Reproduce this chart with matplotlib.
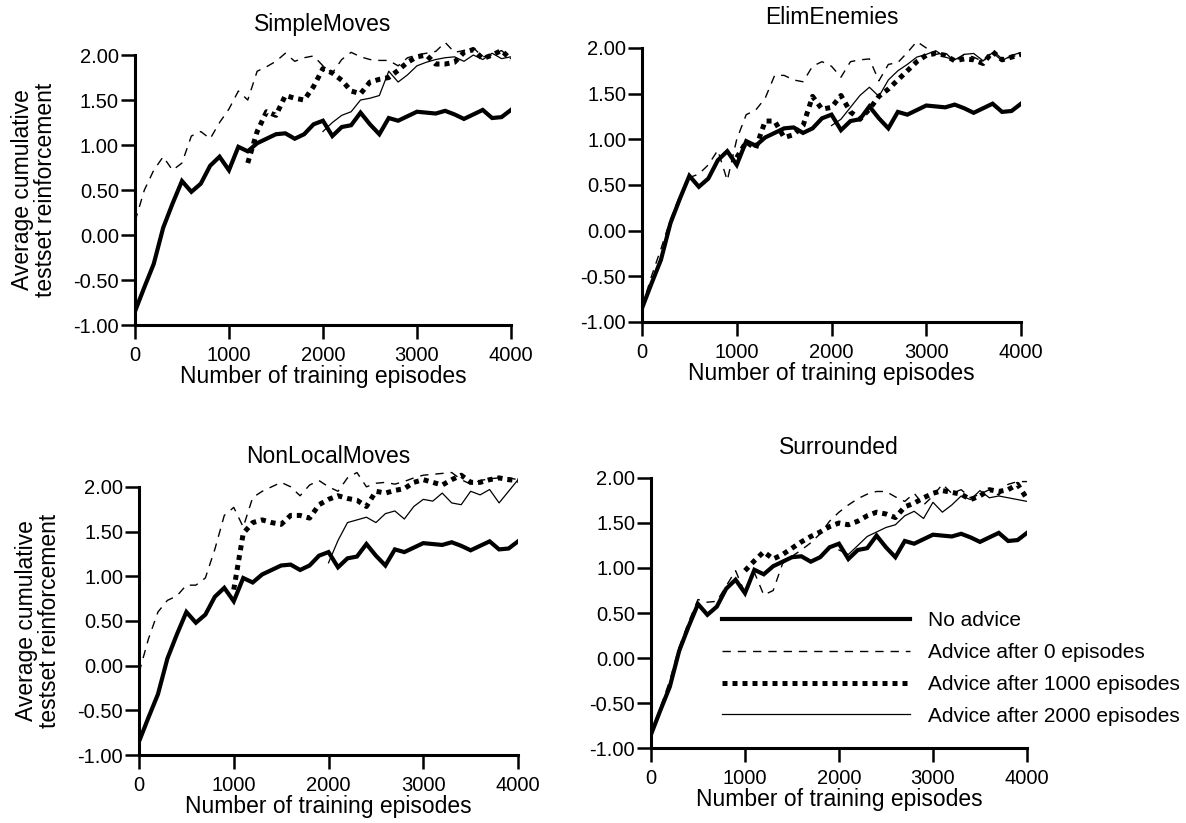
import numpy as np
import matplotlib
matplotlib.use('Agg')
import matplotlib.pyplot as plt

plt.rcParams['font.family'] = ['Liberation Sans', 'DejaVu Sans']

# episodes sampled every 100
episodes = np.arange(0, 4001, 100)

# "No advice" curve (same in every panel)
no_advice = [-0.85, -0.58, -0.32, 0.08, 0.35, 0.60, 0.48, 0.57, 0.77, 0.87,
             0.72, 0.98, 0.93, 1.02, 1.07, 1.12, 1.13, 1.07, 1.12, 1.23,
             1.27, 1.10, 1.20, 1.22, 1.36, 1.23, 1.12, 1.30, 1.27, 1.32,
             1.37, 1.36, 1.35, 1.38, 1.34, 1.29, 1.34, 1.39, 1.30, 1.31, 1.39]

# SimpleMoves
sm_adv0 = [0.15, 0.50, 0.72, 0.87, 0.72, 0.80, 1.10, 1.15, 1.07, 1.25,
           1.40, 1.60, 1.50, 1.82, 1.87, 1.93, 2.02, 1.93, 1.97, 1.99,
           1.88, 1.80, 1.95, 2.03, 1.98, 1.95, 1.94, 1.94, 1.88, 1.97,
           2.00, 2.02, 2.04, 2.14, 2.03, 2.05, 2.08, 1.98, 2.00, 2.05, 1.96]
sm_start1000 = 1200
sm_adv1000 = [0.80, 1.15, 1.37, 1.33, 1.55, 1.52, 1.50, 1.65, 1.85, 1.80,
              1.72, 1.60, 1.57, 1.70, 1.73, 1.75, 1.83, 1.92, 1.98, 2.00,
              1.90, 1.90, 1.92, 2.03, 2.06, 1.96, 2.00, 2.05, 1.95]
sm_adv2000 = [1.15, 1.25, 1.33, 1.37, 1.50, 1.52, 1.55, 1.82, 1.70, 1.78,
              1.88, 1.92, 1.95, 1.97, 1.98, 1.93, 2.00, 1.95, 2.02, 1.96, 1.98]

# ElimEnemies
ee_adv0 = [-0.84, -0.50, -0.20, 0.12, 0.38, 0.58, 0.62, 0.72, 0.88, 0.55,
           1.00, 1.27, 1.32, 1.45, 1.70, 1.70, 1.65, 1.63, 1.80, 1.85,
           1.80, 1.68, 1.85, 1.87, 1.88, 1.64, 1.82, 1.84, 1.95, 2.07,
           2.00, 1.93, 1.95, 1.85, 1.93, 1.90, 1.85, 1.97, 1.88, 1.90, 1.94]
ee_start1000 = 1000
ee_adv1000 = [0.80, 0.97, 0.90, 1.20, 1.20, 1.02, 1.05, 1.15, 1.47, 1.33,
              1.35, 1.48, 1.30, 1.22, 1.33, 1.47, 1.55, 1.65, 1.75, 1.85,
              1.92, 1.94, 1.92, 1.86, 1.88, 1.87, 1.83, 1.96, 1.87, 1.90, 1.93]
ee_adv2000 = [1.15, 1.22, 1.35, 1.48, 1.57, 1.47, 1.65, 1.75, 1.82, 1.90,
              1.93, 1.97, 1.90, 1.87, 1.93, 1.94, 1.86, 1.95, 1.86, 1.92, 1.95]

# NonLocalMoves
nl_adv0 = [-0.08, 0.30, 0.60, 0.73, 0.78, 0.90, 0.90, 0.98, 1.30, 1.68,
           1.77, 1.55, 1.88, 1.95, 2.00, 2.05, 2.00, 1.90, 2.02, 2.07,
           2.00, 1.95, 2.10, 2.16, 2.00, 2.04, 2.05, 2.03, 2.06, 2.10,
           2.13, 2.14, 2.15, 2.16, 2.08, 2.03, 2.07, 2.09, 2.10, 2.10, 2.08]
nl_start1000 = 1000
nl_adv1000 = [0.85, 1.48, 1.60, 1.63, 1.60, 1.58, 1.68, 1.68, 1.65, 1.80,
              1.86, 1.90, 1.87, 1.85, 1.78, 1.95, 1.93, 1.96, 1.98, 2.05,
              2.08, 2.05, 2.02, 2.08, 2.13, 2.05, 2.05, 2.08, 2.10, 2.08, 2.07]
nl_adv2000 = [1.15, 1.40, 1.60, 1.63, 1.66, 1.60, 1.70, 1.73, 1.64, 1.78,
              1.86, 1.84, 1.93, 1.82, 1.80, 1.95, 1.91, 1.97, 1.82, 1.95, 2.08]

# Surrounded
su_adv0 = [-0.86, -0.55, -0.25, 0.12, 0.40, 0.65, 0.62, 0.63, 0.80, 0.97,
           0.72, 0.95, 0.70, 0.75, 1.05, 1.13, 1.20, 1.28, 1.38, 1.52,
           1.62, 1.70, 1.77, 1.82, 1.85, 1.85, 1.79, 1.74, 1.83, 1.70,
           1.80, 1.93, 1.83, 1.87, 1.78, 1.82, 1.87, 1.81, 1.93, 1.96, 1.96]
su_start1000 = 1000
su_adv1000 = [0.97, 1.08, 1.18, 1.10, 1.15, 1.22, 1.29, 1.35, 1.40, 1.46,
              1.50, 1.48, 1.52, 1.58, 1.62, 1.60, 1.56, 1.68, 1.72, 1.78,
              1.83, 1.86, 1.84, 1.82, 1.76, 1.80, 1.87, 1.85, 1.87, 1.93, 1.77]
su_adv2000 = [1.20, 1.15, 1.25, 1.35, 1.40, 1.45, 1.48, 1.58, 1.63, 1.55,
              1.73, 1.62, 1.70, 1.80, 1.76, 1.86, 1.78, 1.80, 1.78, 1.76, 1.74]

panels = [
    ('SimpleMoves', sm_adv0, sm_start1000, sm_adv1000, sm_adv2000,
     [0.1138, 0.6051, 0.3170, 0.3499], True),
    ('ElimEnemies', ee_adv0, ee_start1000, ee_adv1000, ee_adv2000,
     [0.5413, 0.6088, 0.3196, 0.3551], False),
    ('NonLocalMoves', nl_adv0, nl_start1000, nl_adv1000, nl_adv2000,
     [0.1172, 0.0826, 0.3196, 0.3476], True),
    ('Surrounded', su_adv0, su_start1000, su_adv1000, su_adv2000,
     [0.5489, 0.0911, 0.3170, 0.3500], False),
]

fig = plt.figure(figsize=(11.86, 8.23), dpi=100)

for title, adv0, start1000, adv1000, adv2000, pos, ylabel in panels:
    ax = fig.add_axes(pos)
    x1000 = np.arange(start1000, 4001, 100)
    x2000 = np.arange(2000, 4001, 100)

    ax.plot(episodes, no_advice, color='black', lw=3.0,
            solid_joinstyle='miter', label='No advice')
    ax.plot(episodes, adv0, color='black', lw=1.0, dashes=(6, 5),
            label='Advice after 0 episodes')
    ax.plot(x1000, adv1000, color='black', lw=3.6, dashes=(1.0, 1.0),
            dash_capstyle='butt', label='Advice after 1000 episodes')
    ax.plot(x2000, adv2000, color='black', lw=0.9,
            label='Advice after 2000 episodes')

    ax.set_xlim(0, 4000)
    ax.set_ylim(-1.0, 2.2)
    ax.set_xticks([0, 1000, 2000, 3000, 4000])
    ax.set_yticks([-1.0, -0.5, 0.0, 0.5, 1.0, 1.5, 2.0])
    ax.set_yticklabels(['%.2f' % v for v in ax.get_yticks()])

    for side in ['top', 'right']:
        ax.spines[side].set_visible(False)
    ax.spines['left'].set_linewidth(2.2)
    ax.spines['bottom'].set_linewidth(2.2)
    ax.spines['left'].set_bounds(-1.0, 2.0)
    ax.spines['bottom'].set_bounds(0, 4000)

    ax.tick_params(axis='both', direction='out', length=10, width=1.8,
                   labelsize=14.5)
    ax.tick_params(axis='x', pad=5)
    ax.tick_params(axis='y', pad=1.5)

    ax.set_title(title, fontsize=16.5, pad=4)
    ax.set_xlabel('Number of training episodes', fontsize=16.5, labelpad=0)
    if ylabel:
        ax.set_ylabel('Average cumulative\ntestset reinforcement',
                      fontsize=16.5, linespacing=1.0)
        ax.yaxis.set_label_coords(-0.207, 0.469)

    if title == 'Surrounded':
        ax.legend(loc='upper left', bbox_to_anchor=(0.6088, 0.2576),
                  bbox_transform=fig.transFigure, frameon=False,
                  fontsize=15, handlelength=9.0, handletextpad=0.9,
                  labelspacing=0.62, borderpad=0, borderaxespad=0)

fig.savefig('out.png', dpi=100)
